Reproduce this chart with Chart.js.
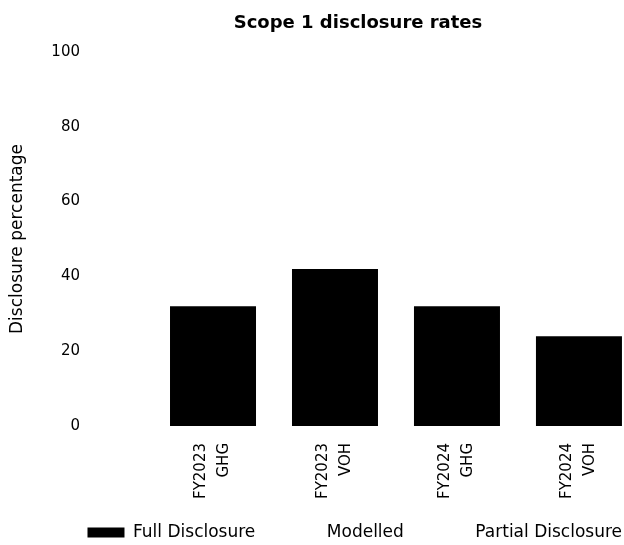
<!DOCTYPE html>
<html>
<head>
<meta charset="utf-8">
<script src="https://cdn.jsdelivr.net/npm/chart.js@4.4.1/dist/chart.umd.min.js"></script>
<style>
  html, body { margin: 0; padding: 0; background: #fff; overflow: hidden; }
  #view { width: 624px; height: 545px; overflow: hidden; }
  #wrap { width: 648px; height: 545px; }
</style>
</head>
<body>
<div id="view"><div id="wrap"><canvas id="scopeChart"></canvas></div></div>
<script>
// chart data
const chartTitle = 'Scope 1 disclosure rates';
const categories = [['FY2023', 'GHG'], ['FY2023', 'VOH'], ['FY2024', 'GHG'], ['FY2024', 'VOH']];
const fullDisclosure = [32, 42, 32, 24];
const modelled = [0, 0, 0, 0];
const partialDisclosure = [0, 0, 0, 0];
const yTicks = [0, 20, 40, 60, 80, 100];

const FONT = "'DejaVu Sans', sans-serif";
Chart.defaults.font.family = FONT;
Chart.defaults.color = '#000';

// bars sit on a numeric x axis so the empty gap left of the first bar can be kept
const toPoints = (values) => values.map((v, i) => ({ x: i, y: v }));

// title is centred over the plot, not the whole canvas
const titlePlugin = {
    id: 'plotTitle',
    afterDraw(chart) {
        const c = chart.ctx;
        c.save();
        c.font = `bold 18px ${FONT}`;
        c.fillStyle = '#000';
        c.textAlign = 'center';
        c.textBaseline = 'middle';
        c.fillText(chartTitle, 358, 23);
        c.restore();
    },
};

const ctx = document.getElementById('scopeChart').getContext('2d');

window.scopeChart = new Chart(ctx, {
    type: 'bar',
    data: {
        datasets: [
            { label: 'Full Disclosure', data: toPoints(fullDisclosure), backgroundColor: '#000000', borderWidth: 0 },
            { label: 'Modelled', data: toPoints(modelled), backgroundColor: '#ffffff', borderWidth: 0 },
            { label: 'Partial Disclosure', data: toPoints(partialDisclosure), backgroundColor: '#ffffff', borderWidth: 0 },
        ],
    },
    plugins: [titlePlugin],
    options: {
        responsive: true,
        maintainAspectRatio: false,
        animation: false,
        layout: { padding: { left: 0, right: 0, top: 52, bottom: -6 } },
        datasets: { bar: { categoryPercentage: 1, barPercentage: 0.705 } },
        scales: {
            x: {
                type: 'linear',
                stacked: true,
                offset: false,
                min: -1.074,
                max: 3.566,
                afterBuildTicks: (scale) => { scale.ticks = categories.map((c, i) => ({ value: i })); },
                afterFit: (scale) => { scale.height = 72; },
                grid: { display: false, drawTicks: false },
                border: { display: false },
                ticks: {
                    maxRotation: 90,
                    minRotation: 90,
                    padding: 17,
                    labelOffset: -12, // centre the two label lines under the bar
                    font: { size: 15, lineHeight: 1.55 },
                    callback: (value) => categories[value],
                },
            },
            y: {
                stacked: true,
                min: 0,
                max: 100,
                afterBuildTicks: (scale) => { scale.ticks = yTicks.map((v) => ({ value: v })); },
                afterFit: (scale) => { scale.width = 82; },
                grid: { display: false, drawTicks: false },
                border: { display: false },
                ticks: { padding: 2, font: { size: 15 } },
                title: {
                    display: true,
                    text: 'Disclosure percentage',
                    font: { size: 17 },
                    padding: { top: 7, bottom: 0 },
                },
            },
        },
        plugins: {
            title: { display: false },
            legend: {
                position: 'bottom',
                align: 'end',
                labels: {
                    boxWidth: 37,
                    boxHeight: 10,
                    padding: 26,
                    font: { size: 17 },
                    color: '#000',
                },
            },
            tooltip: { enabled: false },
        },
    },
});
</script>
</body>
</html>
